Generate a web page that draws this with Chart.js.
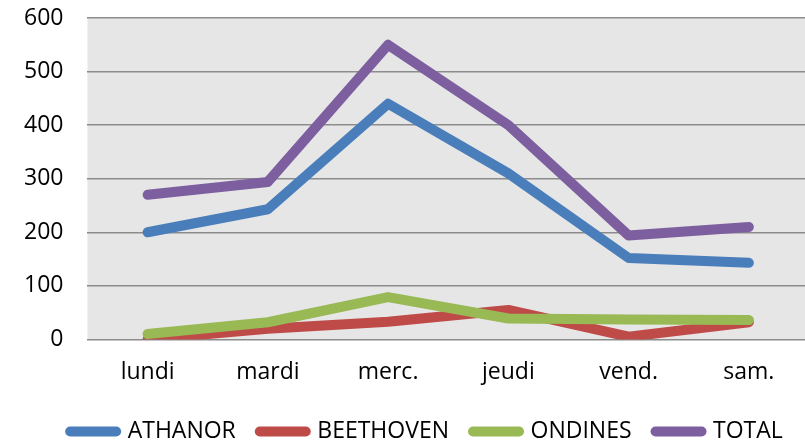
<!DOCTYPE html>
<html>
<head>
<meta charset="utf-8">
<script src="https://cdn.jsdelivr.net/npm/chart.js@4/dist/chart.umd.min.js"></script>
<style>
  html, body { margin: 0; padding: 0; background: #fff; overflow: hidden; }
  .chart-container { position: relative; width: 810px; height: 440px; }
</style>
</head>
<body>
<div class="chart-container">
  <canvas id="dayChart" width="810" height="440"></canvas>
</div>
<script>
const days = ["lundi", "mardi", "merc.", "jeudi", "vend.", "sam."];
const athanor = [200, 243, 440, 310, 152, 143];
const beethoven = [0, 20, 33, 55, 5, 32];
const ondines = [10, 32, 79, 39, 37, 36];
const total = [270, 294, 550, 400, 194, 210];

// grey plot background like the spreadsheet chart
const plotBackground = {
  id: "plotBackground",
  beforeDraw(chart) {
    const { ctx, chartArea } = chart;
    ctx.save();
    ctx.fillStyle = "#e6e6e6";
    ctx.fillRect(chartArea.left, chartArea.top, chartArea.right - chartArea.left, chartArea.bottom - chartArea.top);
    ctx.restore();
  },
};

// legend sits a bit right of the canvas centre in the original
const legendShift = {
  id: "legendShift",
  afterLayout(chart) {
    chart.legend.left += 22;
    chart.legend.right += 22;
  },
};

// later series are painted on top, as in the original
function series(label, data, color, order) {
  return {
    label: label,
    data: data,
    order: order,
    borderColor: color,
    backgroundColor: color,
    borderWidth: 10,
    borderCapStyle: "round",
    borderJoinStyle: "round",
    pointRadius: 0,
    pointStyle: "line",
    tension: 0,
  };
}

const fontSpec = { family: "'Open Sans'", size: 23 };

const ctx = document.getElementById("dayChart").getContext("2d");
new Chart(ctx, {
  type: "line",
  data: {
    labels: days,
    datasets: [
      series("ATHANOR", athanor, "#4a7ebb", 4),
      series("BEETHOVEN", beethoven, "#be4b48", 3),
      series("ONDINES", ondines, "#98b954", 2),
      series("TOTAL", total, "#7d5fa0", 1),
    ],
  },
  options: {
    responsive: false,
    animation: false,
    layout: { padding: { left: 0, right: 1, top: 18, bottom: -13 } },
    plugins: {
      legend: {
        position: "bottom",
        labels: {
          usePointStyle: true,
          pointStyleWidth: 46,
          boxHeight: 10,
          padding: 24,
          color: "#000",
          font: fontSpec,
          sort: (a, b) => a.datasetIndex - b.datasetIndex,
          generateLabels: function (chart) {
            return chart.data.datasets.map((ds, i) => ({
              text: ds.label,
              datasetIndex: i,
              fillStyle: ds.borderColor,
              strokeStyle: ds.borderColor,
              fontColor: "#000",
              lineWidth: 10,
              lineCap: "round",
              pointStyle: "line",
              hidden: false,
            }));
          },
        },
      },
      tooltip: { enabled: false },
    },
    scales: {
      x: {
        offset: true,
        grid: { display: false, drawTicks: false },
        border: { display: false },
        ticks: { color: "#000", padding: 19, font: fontSpec },
        afterFit: (scale) => { scale.height -= 9; },
      },
      y: {
        min: 0,
        max: 600,
        grid: { color: "#8c8c8c", lineWidth: 1.5, drawTicks: false },
        border: { display: false },
        ticks: { stepSize: 100, color: "#000", padding: 24, font: fontSpec },
        afterFit: (scale) => { scale.paddingTop = 0; },
      },
    },
  },
  plugins: [plotBackground, legendShift],
});
</script>
</body>
</html>
